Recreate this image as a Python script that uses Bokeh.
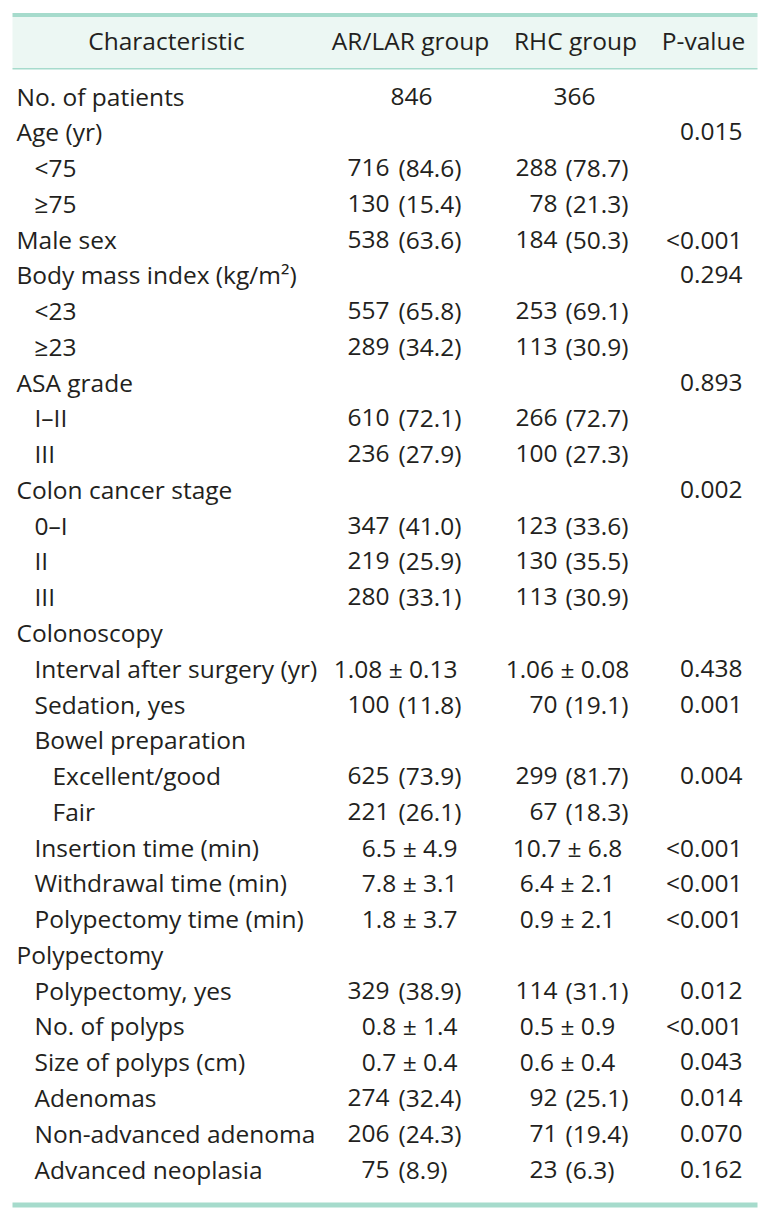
from bokeh.plotting import figure
from bokeh.models import ColumnDataSource, Range1d
from bokeh.core.properties import value
from bokeh.embed import file_html
from bokeh.resources import INLINE

# ---------------- data ----------------
headers = ["Characteristic", "AR/LAR group", "RHC group", "P-value"]

labels = ["No. of patients", "Age (yr)", "<75", "\u226575", "Male sex",
          "Body mass index (kg/m\u00b2)", "<23", "\u226523", "ASA grade", "I\u2013II", "III",
          "Colon cancer stage", "0\u2013I", "II", "III", "Colonoscopy",
          "Interval after surgery (yr)", "Sedation, yes", "Bowel preparation",
          "Excellent/good", "Fair", "Insertion time (min)", "Withdrawal time (min)",
          "Polypectomy time (min)", "Polypectomy", "Polypectomy, yes", "No. of polyps",
          "Size of polyps (cm)", "Adenomas", "Non-advanced adenoma", "Advanced neoplasia"]
indent = [0, 0, 1, 1, 0, 0, 1, 1, 0, 1, 1, 0, 1, 1, 1, 0, 1, 1, 1, 2, 2, 1, 1, 1, 0,
          1, 1, 1, 1, 1, 1]
ar_vals = ["846", "", "716 (84.6)", "130 (15.4)", "538 (63.6)", "", "557 (65.8)",
           "289 (34.2)", "", "610 (72.1)", "236 (27.9)", "", "347 (41.0)", "219 (25.9)",
           "280 (33.1)", "", "1.08 \u00b1 0.13", "100 (11.8)", "", "625 (73.9)",
           "221 (26.1)", "6.5 \u00b1 4.9", "7.8 \u00b1 3.1", "1.8 \u00b1 3.7", "",
           "329 (38.9)", "0.8 \u00b1 1.4", "0.7 \u00b1 0.4", "274 (32.4)", "206 (24.3)",
           "75 (8.9)"]
rhc_vals = ["366", "", "288 (78.7)", "78 (21.3)", "184 (50.3)", "", "253 (69.1)",
            "113 (30.9)", "", "266 (72.7)", "100 (27.3)", "", "123 (33.6)", "130 (35.5)",
            "113 (30.9)", "", "1.06 \u00b1 0.08", "70 (19.1)", "", "299 (81.7)",
            "67 (18.3)", "10.7 \u00b1 6.8", "6.4 \u00b1 2.1", "0.9 \u00b1 2.1", "",
            "114 (31.1)", "0.5 \u00b1 0.9", "0.6 \u00b1 0.4", "92 (25.1)", "71 (19.4)",
            "23 (6.3)"]
p_vals = ["", "0.015", "", "", "<0.001", "0.294", "", "", "0.893", "", "", "0.002", "",
          "", "", "", "0.438", "0.001", "", "0.004", "", "<0.001", "<0.001", "<0.001", "",
          "0.012", "<0.001", "0.043", "0.014", "0.070", "0.162"]

# ---------------- layout (page pixel coordinates) ----------------
W, H = 776, 1212
FONT = "Open Sans"
FS = "24.5px"
TXT = "#231f20"
RULE = "#a6dbcc"
BAND = "#ecf7f3"

TL, TR = 12, 757
ROW0, ROWN = 95.5, 1168.5
STEP = (ROWN - ROW0) / (len(labels) - 1)
HEAD_Y = 40
INDENT_X = [16, 34, 52]
HEAD_X = [166, 410, 575, 703]
COL = {"ar": dict(center=411, num=389, par=398, pm_x=457, pm_align="right"),
       "rhc": dict(center=574, num=557, par=565, pm_x=567, pm_align="center")}
P_RIGHT = 742

p = figure(width=W, height=H, x_range=Range1d(0, W), y_range=Range1d(H, 0),
           output_backend="svg", toolbar_location=None, min_border=0)
p.axis.visible = False
p.grid.visible = False
p.outline_line_color = None
p.background_fill_color = "white"
p.border_fill_color = "white"

# header band and rules
p.quad(left=[TL], right=[TR], top=[16.5], bottom=[68], fill_color=BAND, line_color=None)
p.quad(left=[TL, TL, TL], right=[TR, TR, TR], top=[12.5, 67.5, 1202], bottom=[16.5, 69, 1207],
       fill_color=RULE, line_color=None)

# header texts
p.text(x=HEAD_X, y=[HEAD_Y] * 4, text=headers, text_align="center",
       text_baseline="alphabetic", text_font=value(FONT), text_font_size=FS,
       text_color=TXT)

# collect cell texts
xs, ys, ts, al = [], [], [], []
for i, lab in enumerate(labels):
    y = ROW0 + i * STEP
    xs.append(INDENT_X[indent[i]]); ys.append(y); ts.append(lab); al.append("left")
    for key, vals in (("ar", ar_vals), ("rhc", rhc_vals)):
        v = vals[i]
        c = COL[key]
        if not v:
            continue
        if "\u00b1" in v:
            xs.append(c["pm_x"]); ys.append(y); ts.append(v); al.append(c["pm_align"])
        elif "(" in v:
            n, rest = v.split(" ", 1)
            xs.append(c["num"]); ys.append(y); ts.append(n); al.append("right")
            xs.append(c["par"]); ys.append(y); ts.append(rest); al.append("left")
        else:
            xs.append(c["center"]); ys.append(y); ts.append(v); al.append("center")
    if p_vals[i]:
        xs.append(P_RIGHT); ys.append(y); ts.append(p_vals[i]); al.append("right")

src = ColumnDataSource(dict(x=xs, y=ys, t=ts, a=al))
p.text(x="x", y="y", text="t", text_align="a", source=src, text_baseline="alphabetic",
       text_font=value(FONT), text_font_size=FS, text_color=TXT)

open("out.html", "w").write(file_html(p, INLINE))
